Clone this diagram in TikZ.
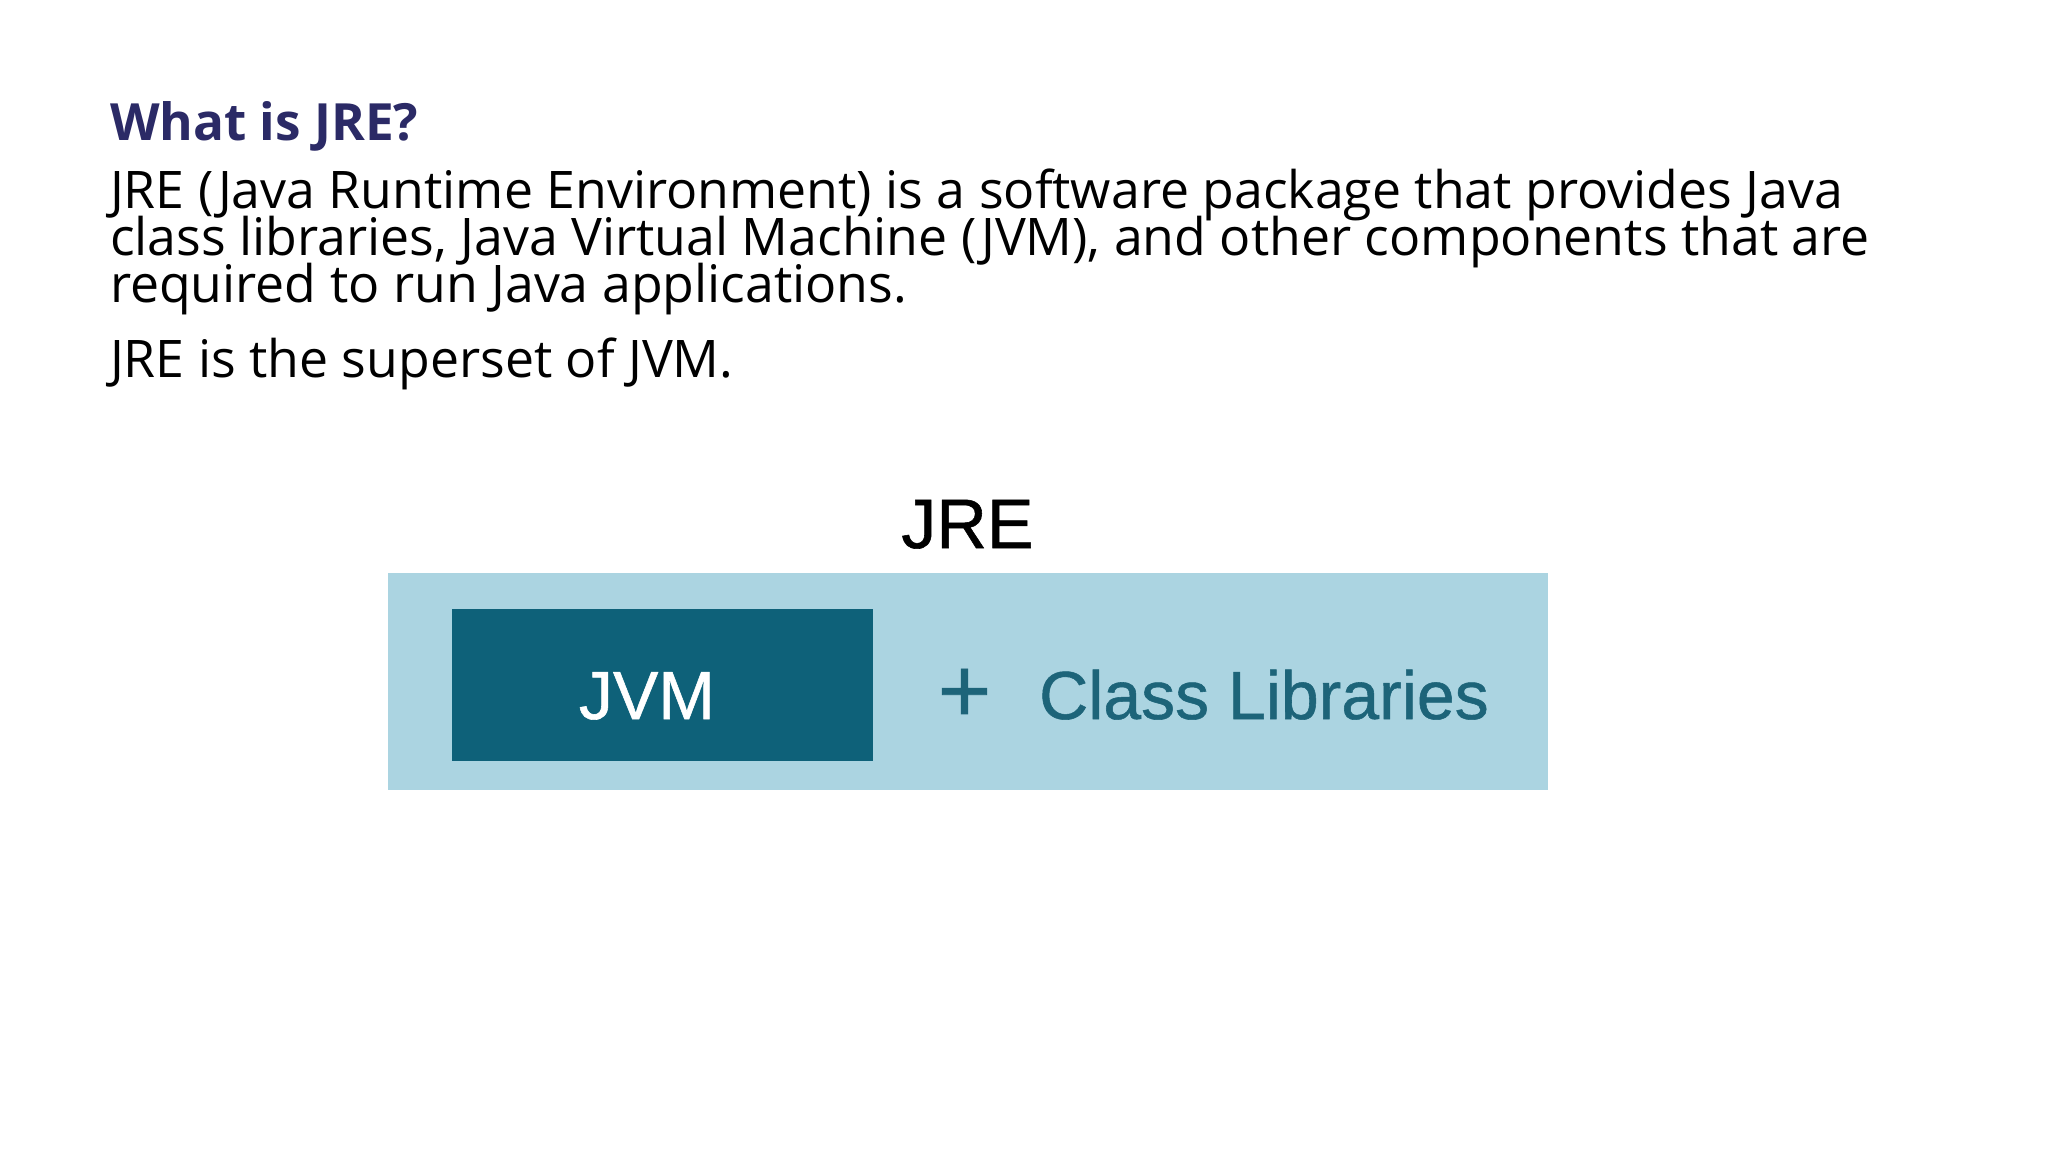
\documentclass[tikz,border=0pt]{standalone}
\usepackage{fontspec}
\setmainfont{Open Sans}
\newfontfamily\diagfont[FakeBold=0.8]{Liberation Sans}
\definecolor{headnavy}{HTML}{2B2A66}
\definecolor{jrebg}{HTML}{ABD4E1}
\definecolor{jvmbg}{HTML}{0E6179}
\definecolor{clstext}{HTML}{1D6479}
\tikzset{
  txt/.style={anchor=base west, inner sep=0pt, outer sep=0pt},
  bodyline/.style={txt, font=\fontsize{51.8}{52}\selectfont},
  diag/.style={inner sep=0pt, outer sep=0pt, font=\diagfont\fontsize{68}{68}\selectfont},
}
\begin{document}
\begin{tikzpicture}[x=1pt,y=-1pt]
\useasboundingbox[fill=white] (0,0) rectangle (2048,1152);
\node[txt, font=\fontsize{51.3}{52}\selectfont\bfseries, text=headnavy] (head) at (110,140) {What is JRE?};
\node[bodyline] (l1) at (110,208) {JRE (Java Runtime Environment) is a software package that provides Java};
\node[bodyline] (l2) at (110,255) {class libraries, Java Virtual Machine (JVM), and other components that are};
\node[bodyline] (l3) at (110,302) {required to run Java applications.};
\node[bodyline] (l4) at (110,377) {JRE is the superset of JVM.};
% diagram
\fill[jrebg] (388,573) rectangle (1548,790);
\fill[jvmbg] (452,609) rectangle (873,761);
\node[diag, anchor=base, text=black, font=\diagfont\fontsize{70}{70}\selectfont] (jre) at (967.5,548) {JRE};
\node[diag, anchor=base, text=white] (jvm) at (647,719) {JVM};
\node[diag, anchor=base, text=clstext, font=\diagfont\fontsize{92}{92}\selectfont] (plus) at (964.5,722) {+};
\node[diag, anchor=base, text=clstext] (cls) at (1264,719) {Class Libraries};
\end{tikzpicture}
\end{document}
